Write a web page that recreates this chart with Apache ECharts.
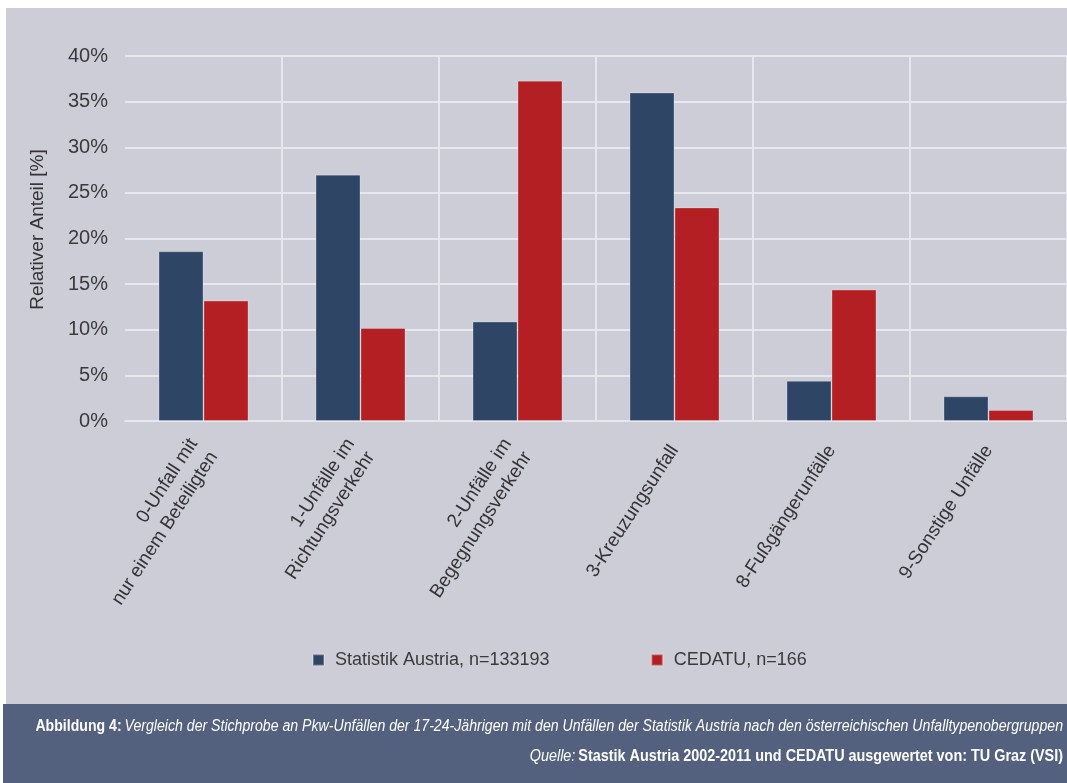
<!DOCTYPE html>
<html>
<head>
<meta charset="utf-8">
<title>Unfalltypen</title>
<script src="https://cdn.jsdelivr.net/npm/echarts@6/dist/echarts.min.js"></script>
<style>
  html, body { margin: 0; padding: 0; background: #ffffff; }
  #chart { width: 1067px; height: 783px; }
</style>
</head>
<body>
<div id="chart"></div>
<script>
// Unfalltypenobergruppen
const categories = [
  '0-Unfall mit\nnur einem Beteiligten',
  '1-Unfälle im\nRichtungsverkehr',
  '2-Unfälle im\nBegegnungsverkehr',
  '3-Kreuzungsunfall',
  '8-Fußgängerunfälle',
  '9-Sonstige Unfälle'
];
// Anteile in %
const statistikAustria = [18.6, 27.0, 10.9, 36.0, 4.4, 2.7];
const cedatu = [13.2, 10.2, 37.3, 23.4, 14.4, 1.2];
const seriesNames = ['Statistik Austria, n=133193', 'CEDATU, n=166'];

const FONT = '"Liberation Sans", Arial, sans-serif';
const gridColor = '#e7e7ee';

const captionRich = {
  b: { fontFamily: FONT, fontWeight: 'bold', fontSize: 16, fill: '#ffffff' },
  i: { fontFamily: FONT, fontStyle: 'italic', fontSize: 16, fill: '#ffffff' }
};

const myChart = echarts.init(document.getElementById('chart'));
myChart.setOption({
  backgroundColor: '#ffffff',
  animation: false,
  textStyle: { fontFamily: FONT },
  graphic: [
    // grauer Hintergrund
    { type: 'rect', z: -10, shape: { x: 6, y: 8, width: 1061, height: 696 }, style: { fill: '#cccdd7' } },
    // Bildunterschrift
    { type: 'rect', z: -10, shape: { x: 3, y: 704, width: 1064, height: 79 }, style: { fill: '#53617f' } },
    {
      type: 'text', x: 1063, y: 727, scaleX: 0.882,
      style: {
        text: '{b|Abbildung 4:} {i|Vergleich der Stichprobe an Pkw-Unfällen der 17-24-Jährigen mit den Unfällen der Statistik Austria nach den österreichischen Unfalltypenobergruppen}',
        align: 'right', verticalAlign: 'middle',
        rich: captionRich
      }
    },
    {
      type: 'text', x: 1063, y: 757, scaleX: 0.9,
      style: {
        text: '{i|Quelle:} {b|Stastik Austria 2002-2011 und CEDATU ausgewertet von: TU Graz (VSI)}',
        align: 'right', verticalAlign: 'middle',
        rich: captionRich
      }
    }
  ],
  legend: {
    left: 307, top: 646,
    itemWidth: 11, itemHeight: 11, itemGap: 101,
    icon: 'rect',
    textStyle: { fontFamily: FONT, fontSize: 18, color: '#3a3a3a', padding: [0, 0, 0, 6] },
    data: seriesNames
  },
  grid: { left: 125, right: 0, top: 56, bottom: 362 },
  xAxis: {
    type: 'category',
    data: categories,
    axisLine: { lineStyle: { color: gridColor, width: 2 } },
    axisTick: { show: false },
    splitLine: { show: true, showMinLine: false, lineStyle: { color: gridColor, width: 2 } },
    axisLabel: {
      rotate: 57, margin: 26, interval: 0,
      fontFamily: FONT, fontSize: 19, color: '#333333', lineHeight: 24
    }
  },
  yAxis: {
    type: 'value',
    min: 0, max: 40, interval: 5,
    name: 'Relativer Anteil [%]',
    nameLocation: 'middle', nameGap: 78,
    nameTextStyle: { fontFamily: FONT, fontSize: 19, color: '#333333', padding: [0, 0, 0, 18] },
    axisLine: { show: false },
    axisTick: { show: false },
    splitLine: { lineStyle: { color: gridColor, width: 2 } },
    axisLabel: {
      formatter: '{value}%', margin: 17,
      fontFamily: FONT, fontSize: 20, color: '#3a3a3a'
    }
  },
  series: [
    {
      name: seriesNames[0], type: 'bar',
      data: statistikAustria, barWidth: 45, barGap: '0%',
      itemStyle: { color: '#2f4566', borderColor: 'rgba(255,255,255,0.25)', borderWidth: 1 }
    },
    {
      name: seriesNames[1], type: 'bar',
      data: cedatu, barWidth: 45, barGap: '0%',
      itemStyle: { color: '#b31f22', borderColor: 'rgba(255,255,255,0.25)', borderWidth: 1 }
    }
  ]
});
</script>
</body>
</html>
